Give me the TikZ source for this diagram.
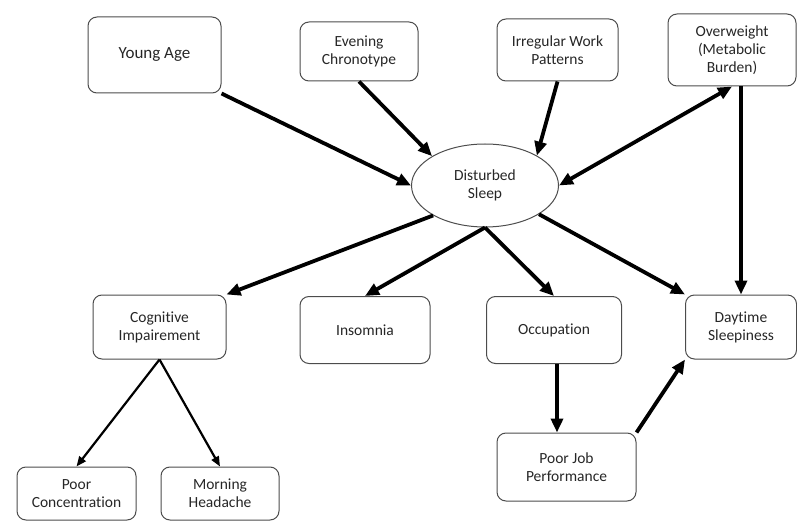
\documentclass[tikz,border=0pt]{standalone}
\usepackage{fontspec}
\setmainfont{Carlito}[Ligatures=NoCommon]
\usetikzlibrary{shapes.geometric}
\usetikzlibrary{arrows.meta}
\tikzset{
  box/.style={rectangle, draw=black!70, line width=1pt, rounded corners=9pt, align=center, text=black!85, font=\fontsize{15.5}{18}\selectfont},
  oval/.style={ellipse, draw=black!70, line width=1pt, align=center, text=black!85, font=\fontsize{15.5}{18}\selectfont},
  arrow/.style={draw, -{Triangle[length=14pt, width=12pt]}, line width=3.8pt},
  thinarrow/.style={draw, -{Triangle[length=10pt, width=8pt]}, line width=2.2pt}
  }

\begin{document}
\begin{tikzpicture}[x=1pt, y=-1pt]
	\useasboundingbox (0,0) rectangle (797,521);

	% Nodes
	\node[box, minimum width=133, minimum height=76, font=\fontsize{17}{20}\selectfont] (young) at (154.5, 55) {Young Age};
	\node[box, minimum width=118, minimum height=59] (evening) at (359, 51.5) {Evening\\Chronotype};
	\node[box, minimum width=121, minimum height=62] (irregular) at (557.5, 50) {Irregular Work\\Patterns};
	\node[box, minimum width=128, minimum height=72] (overweight) at (732, 50) {Overweight\\(Metabolic\\Burden)};
	\node[oval, minimum width=147, minimum height=83] (sleep) at (485, 185.5) {Disturbed\\Sleep};
	\node[box, minimum width=133, minimum height=64] (cognitive) at (159.5, 327) {Cognitive\\Impairement};
	\node[box, minimum width=130, minimum height=67] (insomnia) at (365, 330) {Insomnia};
	\node[box, minimum width=135, minimum height=67] (occupation) at (554, 330) {Occupation};
	\node[box, minimum width=111, minimum height=64] (daytime) at (741, 327) {Daytime\\Sleepiness};
	\node[box, minimum width=139, minimum height=68] (jobperf) at (566.5, 467) {Poor Job\\Performance};
	\node[box, minimum width=119, minimum height=53] (concentration) at (76.5, 493.5) {Poor\\Concentration};
	\node[box, minimum width=118, minimum height=53] (headache) at (220, 493.5) {Morning\\Headache};

	% Arrows
	\draw [arrow] (young.south east) -- (sleep.west);
	\draw [arrow] (evening.south) -- (sleep.151);
	\draw [arrow] (irregular.south) -- (sleep.30);
	\draw [arrow, {Triangle[length=14pt, width=12pt]}-{Triangle[length=14pt, width=12pt]}] (sleep.east) -- (overweight.south);
	\draw [arrow] (overweight.south -| daytime.north) -- (daytime.north);
	\draw [arrow] (sleep.210) -- (cognitive.north east);
	\draw [arrow] (sleep.south) -- (insomnia.north);
	\draw [arrow] (sleep.south) -- (occupation.north);
	\draw [arrow] (sleep.-28) -- (daytime.north west);
	\draw [arrow] ([xshift=3]occupation.south) -- ([xshift=3]occupation.south |- jobperf.north);
	\draw [arrow] (jobperf.north east) -- (daytime.south west);
	\draw [thinarrow] (cognitive.south) -- (concentration.north);
	\draw [thinarrow] (cognitive.south) -- (headache.north);
\end{tikzpicture}
\end{document}
